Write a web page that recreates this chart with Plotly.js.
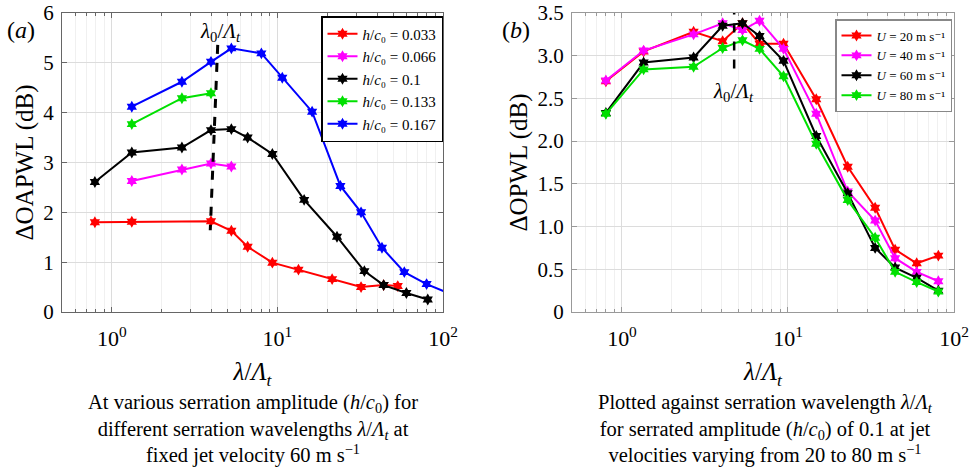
<!DOCTYPE html>
<html><head><meta charset="utf-8">
<script src="https://cdn.plot.ly/plotly-3.0.1.min.js"></script>
<style>html,body{margin:0;padding:0;background:#fff}#chart{width:971px;height:470px}</style>
</head><body><div id="chart"></div>
<script>
// ---- Panel (a): ΔOAPWL vs λ/Λt for several h/c0 ----
const xA_033 = [0.79, 1.32, 3.97, 5.27, 6.61, 9.32, 13.4, 21.4, 32.0, 43.8, 53.3];
const yA_033 = [1.80, 1.81, 1.82, 1.63, 1.31, 0.99, 0.85, 0.66, 0.50, 0.54, 0.52];
const xA_066 = [1.32, 2.65, 3.97, 5.27];
const yA_066 = [2.63, 2.86, 2.98, 2.92];
const xA_100 = [0.79, 1.32, 2.65, 3.97, 5.27, 6.61, 9.32, 14.5, 22.9, 33.5, 43.8, 60.1, 80.9];
const yA_100 = [2.61, 3.20, 3.30, 3.65, 3.67, 3.50, 3.17, 2.25, 1.51, 0.82, 0.54, 0.38, 0.25];
const xA_133 = [1.32, 2.65, 3.97];
const yA_133 = [3.77, 4.29, 4.39];
const xA_167 = [1.32, 2.65, 3.97, 5.27, 8.0, 10.7, 16.2, 24.0, 32.0, 42.8, 58.4, 79.6, 108];
const yA_167 = [4.12, 4.62, 5.02, 5.29, 5.19, 4.70, 4.02, 2.53, 2.00, 1.29, 0.80, 0.56, 0.38];
const namesA = ['<i>h</i>/<i>c</i>₀ = 0.033', '<i>h</i>/<i>c</i>₀ = 0.066',
                '<i>h</i>/<i>c</i>₀ = 0.1', '<i>h</i>/<i>c</i>₀ = 0.133',
                '<i>h</i>/<i>c</i>₀ = 0.167'];
const lambda0A = [4.36, 3.93];   // dashed λ0/Λt marker (top, bottom)
const lambda0A_y = [5.36, 1.64];

// ---- Panel (b): ΔOPWL vs λ/Λt for several U ----
const xB = [0.80, 1.35, 2.70, 4.04, 5.32, 6.74, 9.40, 14.8, 22.9, 33.5, 44.2, 59.6, 80.5];
const yB_20 = [2.70, 3.05, 3.28, 3.17, 3.38, 3.14, 3.14, 2.49, 1.70, 1.22, 0.73, 0.57, 0.66];
const yB_40 = [2.71, 3.06, 3.25, 3.38, 3.30, 3.41, 3.08, 2.32, 1.41, 1.07, 0.63, 0.47, 0.36];
const yB_60 = [2.33, 2.92, 2.98, 3.35, 3.38, 3.23, 2.94, 2.06, 1.39, 0.75, 0.52, 0.40, 0.25];
const yB_80 = [2.32, 2.84, 2.87, 3.09, 3.18, 3.08, 2.76, 1.97, 1.31, 0.87, 0.47, 0.35, 0.24];
const namesB = ['<i>U</i> = 20 m s⁻¹', '<i>U</i> = 40 m s⁻¹',
                '<i>U</i> = 60 m s⁻¹', '<i>U</i> = 80 m s⁻¹'];
const lambda0B = 4.74;
const lambda0B_y = [2.85, 3.5];

const colors = ['#ff0000', '#ff00ff', '#000000', '#00e000', '#0000ff'];
const colorsB = ['#ff0000', '#ff00ff', '#000000', '#00e000'];

const xTickVals = [1, 10, 100];
const xTickText = ['10<sup>0</sup>', '10<sup>1</sup>', '10<sup>2</sup>'];
const yTickValsA = [0, 1, 2, 3, 4, 5, 6];
const yTickValsB = [0, 0.5, 1.0, 1.5, 2.0, 2.5, 3.0, 3.5];
const yTickTextB = ['0', '0.5', '1.0', '1.5', '2.0', '2.5', '3.0', '3.5'];
const minorVals = [0.5,0.6,0.7,0.8,0.9,2,3,4,5,6,7,8,9,20,30,40,50,60,70,80,90];

const serif = "'Liberation Serif', 'DejaVu Serif', serif";

function tr(x, y, name, color, xa, ya, leg) {
  return {x: x, y: y, name: name, type: 'scatter', mode: 'lines+markers',
    xaxis: xa, yaxis: ya, legend: leg,
    line: {color: color, width: 2},
    marker: {symbol: 'hexagram', size: 9, color: color}};
}

const data = [
  tr(xA_033, yA_033, namesA[0], colors[0], 'x', 'y', 'legend'),
  tr(xA_066, yA_066, namesA[1], colors[1], 'x', 'y', 'legend'),
  tr(xA_100, yA_100, namesA[2], colors[2], 'x', 'y', 'legend'),
  tr(xA_133, yA_133, namesA[3], colors[3], 'x', 'y', 'legend'),
  tr(xA_167, yA_167, namesA[4], colors[4], 'x', 'y', 'legend'),
  tr(xB, yB_20, namesB[0], colorsB[0], 'x2', 'y2', 'legend2'),
  tr(xB, yB_40, namesB[1], colorsB[1], 'x2', 'y2', 'legend2'),
  tr(xB, yB_60, namesB[2], colorsB[2], 'x2', 'y2', 'legend2'),
  tr(xB, yB_80, namesB[3], colorsB[3], 'x2', 'y2', 'legend2')
];

function xaxis(domain, anchor, lc) {
  return {domain: domain, anchor: anchor, type: 'log', range: [Math.log10(0.5), 2],
    tickmode: 'array', tickvals: xTickVals, ticktext: xTickText,
    ticks: 'inside', ticklen: 5, tickcolor: lc, showline: true, linecolor: lc, linewidth: 1, mirror: 'ticks',
    showgrid: true, gridcolor: '#dcdcdc', zeroline: false, ticklabelstandoff: 7,
    minor: {tickmode: 'array', tickvals: minorVals, showgrid: true, gridcolor: '#f0f0f0', ticks: 'inside', ticklen: 3, tickcolor: lc},
    tickfont: {family: serif, size: 22, color: '#000'},
    title: {text: '<i>λ</i>/<i>Λ<sub>t</sub></i>', font: {family: serif, size: 25, color: '#000'}, standoff: 12}};
}
function yaxis(domain, anchor, range, tv, tt, title, lc) {
  return {domain: domain, anchor: anchor, range: range,
    tickmode: 'array', tickvals: tv, ticktext: tt,
    ticks: 'inside', ticklen: 5, tickcolor: lc, showline: true, linecolor: lc, linewidth: 1, mirror: 'ticks',
    showgrid: true, gridcolor: '#dcdcdc', zeroline: false, ticklabelstandoff: 3,
    tickfont: {family: serif, size: 21, color: '#000'},
    title: {text: title, font: {family: serif, size: 25, color: '#000'}, standoff: 2}};
}

const yDom = [1 - 312/470, 1 - 13/470];
const layout = {
  width: 971, height: 470,
  margin: {l: 0, r: 0, t: 0, b: 0},
  paper_bgcolor: '#fff', plot_bgcolor: '#fff',
  font: {family: serif},
  xaxis: xaxis([62/971, 443/971], 'y', '#666'),
  yaxis: yaxis(yDom, 'x', [0, 6], yTickValsA, yTickValsA.map(String), 'ΔOAPWL (dB)', '#666'),
  xaxis2: xaxis([572/971, 954/971], 'y2', '#999'),
  yaxis2: yaxis(yDom, 'x2', [0, 3.5], yTickValsB, yTickTextB, 'ΔOPWL (dB)', '#999'),
  legend: {x: 443/971, xanchor: 'right', y: 1 - 16/470, yanchor: 'top',
    bgcolor: '#fff', bordercolor: '#000', borderwidth: 1.5,
    font: {family: serif, size: 15, color: '#000'}, itemwidth: 30, tracegroupgap: 0},
  legend2: {x: 952/971, xanchor: 'right', y: 1 - 19/470, yanchor: 'top',
    bgcolor: '#fff', bordercolor: '#888', borderwidth: 1.5,
    font: {family: serif, size: 13, color: '#000'}, itemwidth: 30, tracegroupgap: 0},
  showlegend: true,
  shapes: [
    {type: 'line', xref: 'x', yref: 'y', x0: lambda0A[0], y0: lambda0A_y[0], x1: lambda0A[1], y1: lambda0A_y[1],
     line: {color: '#000', width: 3, dash: 'dash'}},
    {type: 'line', xref: 'x2', yref: 'y2', x0: lambda0B, y0: lambda0B_y[0], x1: lambda0B, y1: lambda0B_y[1],
     line: {color: '#000', width: 2.5, dash: 'dash'}}
  ],
  annotations: [
    {xref: 'x', yref: 'y', x: Math.log10(4.5), y: 5.62, text: '<i>λ</i><sub>0</sub>/<i>Λ<sub>t</sub></i>',
     showarrow: false, xanchor: 'center', font: {family: serif, size: 21, color: '#000'}},
    {xref: 'x2', yref: 'y2', x: Math.log10(4.7), y: 2.58, text: '<i>λ</i><sub>0</sub>/<i>Λ<sub>t</sub></i>',
     showarrow: false, xanchor: 'center', font: {family: serif, size: 21, color: '#000'}},
    {xref: 'paper', yref: 'paper', x: 21/971, y: 1 - 15/470, text: '(<i>a</i>)', showarrow: false,
     xanchor: 'center', font: {family: serif, size: 24, color: '#000'}},
    {xref: 'paper', yref: 'paper', x: 516/971, y: 1 - 15/470, text: '(<i>b</i>)', showarrow: false,
     xanchor: 'center', font: {family: serif, size: 24, color: '#000'}},
    {xref: 'paper', yref: 'paper', x: 253/971, y: 1 - 429/470, xanchor: 'center', yanchor: 'middle',
     text: 'At various serration amplitude (<i>h</i>/<i>c</i><sub>0</sub>) for<br>different serration wavelengths <i>λ</i>/<i>Λ<sub>t</sub></i> at<br>fixed jet velocity 60 m s<sup>−1</sup>',
     showarrow: false, align: 'center', font: {family: serif, size: 20.5, color: '#000'}},
    {xref: 'paper', yref: 'paper', x: 765/971, y: 1 - 429/470, xanchor: 'center', yanchor: 'middle',
     text: 'Plotted against serration wavelength <i>λ</i>/<i>Λ<sub>t</sub></i><br>for serrated amplitude (<i>h</i>/<i>c</i><sub>0</sub>) of 0.1 at jet<br>velocities varying from 20 to 80 m s<sup>−1</sup>',
     showarrow: false, align: 'center', font: {family: serif, size: 20.5, color: '#000'}}
  ]
};

Plotly.newPlot('chart', data, layout, {displayModeBar: false, staticPlot: true});
</script></body></html>
